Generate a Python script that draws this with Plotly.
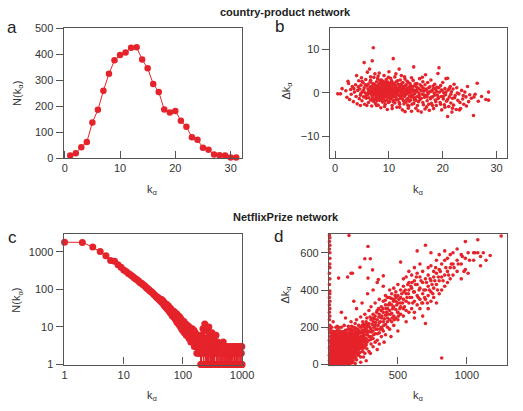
import plotly.graph_objects as go

RED = "#e5232a"
FONT = "Liberation Sans, Arial, sans-serif"

# ---------------- panel a: country-product degree distribution ----------------
a_k = list(range(1, 32))
a_N = [10, 19, 42, 62, 137, 186, 260, 325, 377, 397, 407, 425, 427, 380, 346, 286,
       255, 187, 176, 182, 144, 121, 80, 71, 40, 32, 14, 11, 10, 2, 2]

# ---------------- panel b: country-product k vs delta k ----------------
b_pts = [
    (0.5, -0.2), (1.0, -0.2), (1.3, 1.0), (2.0, 0.5), (2.2, -1.0), (2.4, 2.7), (2.5, 2.2), (2.7, -1.5),
    (2.9, 0.8), (3.0, -0.3), (3.2, 1.5), (3.4, -2.0), (3.6, 0.2), (3.8, 1.9), (3.9, -0.8), (4.0, 4.0),
    (4.1, -2.5), (4.2, 0.6), (4.4, 2.8), (4.5, -1.3),
    (4.6, 0.9), (4.7, -0.5), (4.8, 1.8), (4.9, 3.5), (5.0, -1.8), (5.1, 0.3), (5.2, 2.4), (5.3, -0.9),
    (5.4, 7.0), (5.4, 1.2), (5.5, -2.6), (5.6, 0.0), (5.7, 3.1), (5.8, -1.2), (5.9, 1.6), (6.0, -0.4),
    (6.0, 4.8), (6.1, 2.0), (6.2, -2.2), (6.3, 0.7), (6.4, 5.5), (6.4, -0.1), (6.5, 1.4), (6.6, -1.6),
    (6.6, 2.9), (6.7, 0.4), (6.8, -3.0), (6.8, 1.0), (6.9, 7.4), (6.9, -0.7), (7.0, 2.2), (7.0, 0.1),
    (7.1, 10.4), (7.1, -1.9), (7.2, 3.6), (7.2, 1.1), (7.3, -0.3), (7.4, 4.4), (7.4, 0.6), (7.5, -2.4),
    (7.5, 1.7), (7.6, -0.9), (7.6, 0.3), (7.7, 2.6), (7.7, -1.4), (7.8, 0.9), (7.8, -0.2), (7.9, 3.3),
    (7.9, 1.4), (8.0, -2.8), (8.0, 0.0), (8.1, 2.0), (8.1, -0.6), (8.2, 1.0), (8.2, 4.6), (8.3, -1.7),
    (8.3, 0.5), (8.4, 2.4), (8.4, -0.3), (8.5, 1.3), (8.5, -3.4), (8.6, 0.2), (8.6, 3.0), (8.7, -1.0),
    (8.7, 1.8), (8.8, 0.7), (8.8, -2.1), (8.9, -0.5), (8.9, 2.7), (9.0, 1.1), (9.0, -1.3), (9.1, 0.4),
    (9.1, 4.0), (9.2, -0.8), (9.2, 2.1), (9.3, 0.9), (9.3, -2.6), (9.4, 1.5), (9.4, -0.1), (9.5, 3.1),
    (9.5, 0.3), (9.6, -1.6), (9.6, 1.9), (9.7, -3.8), (9.7, 0.6), (9.8, 2.5), (9.8, -0.4), (9.9, 1.2),
    (9.9, -1.1), (10.0, 4.9), (10.0, 0.1), (10.0, 2.2), (10.1, -2.0), (10.1, 0.8), (10.2, 1.6), (10.2, -0.7),
    (10.3, 3.4), (10.3, 0.0), (10.4, -1.4), (10.4, 1.0),
    (10.5, 2.8), (10.5, -0.2), (10.6, 0.7), (10.6, -2.9), (10.7, 1.9), (10.7, -0.9), (10.8, 7.9), (10.8, 0.4),
    (10.9, -1.7), (10.9, 2.3), (11.0, 1.2), (11.0, -0.4), (11.1, 3.7), (11.1, -2.3), (11.2, 0.1), (11.2, 1.6),
    (11.3, -1.0), (11.4, 2.6), (11.4, 0.5), (11.5, -3.3), (11.5, 1.0), (11.6, -0.1), (11.7, 2.0), (11.7, -1.5),
    (11.8, 0.8), (11.9, 5.5), (11.9, -0.6), (12.0, 1.4), (12.0, -2.6), (12.1, 3.0), (12.2, 0.2), (12.2, -1.2),
    (12.3, 4.0), (12.3, 1.8), (12.4, -0.3), (12.5, -3.9), (12.5, 0.9), (12.6, 2.4), (12.7, -1.8), (12.7, 0.0),
    (12.8, 1.5), (12.9, -0.8), (13.0, 3.2), (13.0, -4.3), (13.1, 0.6), (13.2, -2.1), (13.2, 1.9), (13.3, -0.2),
    (13.4, 2.7), (13.5, -1.3), (13.5, 0.4), (13.6, 1.2), (13.7, -3.0), (13.8, 0.8), (13.8, -0.7), (13.9, 2.2),
    (14.0, -1.6), (14.0, 0.2), (14.1, 1.4), (14.2, -4.2),
    (14.3, 0.9), (14.4, -0.5), (14.5, 2.9), (14.6, 6.0), (14.6, -2.4), (14.7, 0.3), (14.8, 1.7), (14.9, -1.1),
    (15.0, -3.5), (15.1, 0.6), (15.2, 2.2), (15.3, -0.8), (15.4, 1.1), (15.5, -2.0), (15.6, 0.0), (15.7, 3.3),
    (15.8, -1.5), (15.9, 0.7), (16.0, -4.4), (16.1, 1.5), (16.2, -0.3), (16.3, 2.6), (16.4, -2.7), (16.5, 0.4),
    (16.6, -1.0), (16.7, 1.9), (16.8, 4.2), (16.9, -0.6), (17.0, -3.2), (17.0, 0.9), (17.1, -1.8), (17.2, 2.4),
    (17.3, -0.2), (17.4, 1.2), (17.5, -4.0), (17.6, 0.3), (17.7, -1.3), (17.8, 3.0), (17.9, -2.4), (18.0, 0.6),
    (18.1, -0.9), (18.2, 1.6), (18.3, -3.6), (18.4, 0.0), (18.5, 2.0),
    (18.6, -1.6), (18.7, 0.8), (18.8, -2.9), (18.9, 1.3), (19.0, -0.5), (19.1, 4.5), (19.2, -1.1), (19.3, 5.8),
    (19.4, 0.2), (19.5, -2.2), (19.6, 1.7), (19.7, -0.8), (19.8, -3.9), (19.9, 0.5), (20.0, 2.4), (20.1, -1.4),
    (20.2, 0.0), (20.3, -2.7), (20.4, 1.0), (20.5, -0.4), (20.6, 3.3), (20.7, -1.9), (20.9, -5.4), (20.9, 3.4),
    (21.0, 0.7), (21.1, -3.1), (21.2, -0.9), (21.4, 1.5), (21.5, -2.3), (21.6, 0.3), (21.7, -4.4), (21.8, -1.2),
    (21.9, 0.9), (22.0, -2.8), (22.1, 2.0),
    (22.3, -0.6), (22.5, -3.8), (22.6, 1.2), (22.8, -1.7), (23.0, -0.2), (23.1, -3.9), (23.3, -3.6), (23.5, 0.6),
    (23.7, -1.4), (23.9, -2.6), (24.1, 0.2), (24.3, -0.9), (24.6, 1.5), (24.8, -2.0), (25.0, -0.4), (25.3, -1.2),
    (25.7, -5.2), (25.8, -0.9), (26.0, -0.3), (26.4, 2.25), (26.6, -1.9), (27.2, -0.8), (28.0, -1.5), (28.5, 0.2),
    (28.5, -1.65),
]
b_pts_core = [
    (5.3, 0.6), (5.6, 1.9), (5.8, -0.6), (6.1, 0.9), (6.3, -1.1), (6.5, 2.5), (6.7, -0.3), (6.9, 1.6),
    (7.0, -1.2), (7.2, 0.4), (7.3, 2.0), (7.5, -0.5), (7.6, 1.2), (7.8, -1.8), (7.9, 0.6), (8.0, 1.6),
    (8.1, -1.1), (8.2, 0.2), (8.3, 2.9), (8.4, -0.8), (8.5, 0.8), (8.6, -1.5), (8.7, 2.2), (8.8, 0.0),
    (8.9, 1.3), (9.0, -0.4), (9.1, 1.8), (9.2, -1.9), (9.3, 0.5), (9.4, 2.6), (9.5, -0.9), (9.6, 0.9),
    (9.7, -0.2), (9.8, 1.5), (9.9, -2.2), (10.0, 0.6), (10.1, 1.9), (10.2, -1.2), (10.3, 0.3), (10.4, 2.4),
    (10.5, -0.7), (10.6, 1.2), (10.7, 0.0), (10.8, -2.0), (10.9, 0.9), (11.0, 2.1), (11.1, -0.8), (11.2, 0.7),
    (11.3, 1.5), (11.4, -1.6), (11.5, 0.2), (11.6, 2.8), (11.7, -0.4), (11.8, 1.1), (11.9, -2.2), (12.0, 0.4),
    (12.1, 1.9), (12.2, -0.9), (12.3, 0.6), (12.4, 2.2), (12.5, -1.4), (12.6, 0.1), (12.7, 1.2), (12.8, -2.5),
    (12.9, 0.8), (13.0, -0.5), (13.1, 1.7), (13.2, 0.3), (13.3, -1.5), (13.4, 1.0), (13.5, -2.8), (13.6, 2.4),
    (13.7, 0.0), (13.8, -1.9), (13.9, 0.6), (14.0, 1.7), (14.1, -0.9), (14.2, 0.4), (14.3, -2.6), (14.4, 1.5),
    (14.5, -1.0), (14.6, 0.7), (14.8, -0.2), (14.9, 2.1), (15.0, -1.7), (15.2, 0.3), (15.3, -2.9), (15.5, 1.0),
    (15.6, -0.6), (15.8, 1.9), (16.0, -1.2), (16.1, 0.5), (16.3, -2.2), (16.4, 1.1), (16.6, -0.5), (16.7, -3.7),
    (16.9, 0.8), (17.1, -0.9), (17.2, 0.2), (17.4, -2.6), (17.6, 1.4), (17.8, -1.0), (17.9, 0.4), (18.1, -2.9),
    (18.3, 1.0), (18.5, -0.5), (18.7, -2.0), (18.9, 0.3), (19.1, -1.3), (19.3, 1.2), (19.6, -2.6), (19.8, 0.7),
    (20.1, -0.8), (20.4, -3.3), (20.6, 0.2), (20.9, -1.5), (21.2, 1.0), (21.5, -0.3), (21.8, -3.5), (22.2, -1.1),
    (22.7, 0.0), (23.2, -2.2), (23.8, -0.6), (24.4, -3.0), (5.9, -2.9), (6.6, 3.7), (7.7, -2.9), (8.0, 3.9),
    (9.2, -3.1), (9.9, 3.6), (10.6, -3.6), (11.3, 4.4), (12.0, -3.3), (12.9, 3.7), (13.6, -3.5), (14.2, 3.5),
    (15.4, -4.1), (16.2, 3.6), (4.3, 1.4), (4.8, -0.1), (5.0, 2.7), (3.5, 1.0), (4.7, -2.9),
    (6.2, 0.2), (7.1, 0.9), (7.4, -1.5), (8.15, 0.7), (8.6, 1.0), (9.05, -0.1), (9.45, 0.6), (9.85, 0.2),
    (10.25, 1.2), (10.65, -0.4), (11.05, 0.4), (11.45, -0.3), (11.85, 0.3), (12.25, 1.0), (12.65, -0.6),
    (13.05, 0.9), (13.45, 0.2), (13.85, 1.4), (14.25, -0.4), (14.7, -1.6), (15.1, 1.4), (15.7, -1.1),
]

# ---------------- panel c: NetflixPrize degree distribution (log-log) ----------------
c_k_head = list(range(1, 101))
c_N_head = [1800, 1780, 1340, 1020, 790, 590, 560, 450, 390, 330,
            300, 265, 245, 225, 205, 190, 178, 165, 150, 145,
            135, 128, 122, 112, 105, 102, 95, 90, 86, 84,
            80, 74, 72, 69, 66, 62, 60, 61, 55, 54,
            52, 48, 55, 46, 44, 50, 40, 45, 36, 42,
            38, 33, 40, 31, 35, 29, 36, 27, 32, 30,
            24, 31, 26, 22, 28, 20, 25, 23, 19, 26,
            18, 22, 17, 24, 16, 21, 19, 14, 22, 17,
            13, 20, 15, 18, 12, 16, 19, 11, 15, 13,
            17, 10, 14, 12, 9, 15, 11, 13, 8, 12]
c_k_mid = list(range(102, 201, 2))
c_N_mid = [10, 14, 7, 11, 9, 12, 6, 10, 8, 11,
           7, 9, 5, 10, 8, 6, 9, 4, 7, 8,
           5, 9, 6, 4, 7, 5, 8, 3, 6, 5,
           7, 3, 5, 4, 6, 2, 5, 4, 3, 6,
           2, 4, 5, 3, 2, 4, 3, 5, 2, 1]
c_k_tail1 = list(range(202, 401, 4))
c_N_tail1 = [3, 1, 6, 2, 9, 1, 4, 2, 12, 1,
             3, 5, 1, 8, 2, 1, 4, 1, 10, 2,
             3, 1, 6, 1, 2, 4, 1, 7, 2, 1,
             3, 1, 5, 1, 2, 3, 1, 4, 1, 2,
             6, 1, 3, 1, 2, 1, 4, 1, 2, 3]
c_k_tail2 = list(range(410, 1001, 10))
c_N_tail2 = [1, 2, 1, 3, 1, 2, 1, 4, 1, 2,
             1, 3, 1, 1, 2, 1, 3, 1, 2, 1,
             1, 3, 1, 2, 1, 2, 1, 3, 1, 1,
             2, 1, 3, 1, 2, 1, 1, 2, 1, 3,
             1, 2, 1, 1, 3, 1, 2, 1, 1, 2,
             1, 3, 1, 2, 1, 1, 2, 1, 3, 1]

# ---------------- panel d: NetflixPrize k vs delta k ----------------
d_edge_cols = [
    (3, [0, 20, 50, 90, 130, 190, 240, 280, 320, 360, 430, 490, 620, 660, 695]),
    (6, [5, 40, 80, 120, 170, 210, 260, 300, 340, 380, 395, 460, 520, 540, 570, 600, 640, 680]),
]
d_core_cols = [
    (10, [15, 60, 100, 150, 190]), (15, [5, 25, 45, 70, 90, 120, 170]),
    (20, [0, 30, 70, 110, 140, 200]), (25, [15, 40, 55, 85, 100, 130, 160]),
    (30, [10, 45, 85, 125, 165, 230]), (35, [0, 25, 50, 70, 110, 145]),
    (40, [5, 35, 60, 95, 130, 175]), (45, [15, 45, 80, 100, 120, 155]),
    (50, [20, 50, 75, 110, 150, 200]), (55, [5, 40, 60, 95, 130, 180]),
    (60, [0, 30, 65, 90, 120, 160, 205]), (65, [20, 50, 75, 110, 140]),
    (70, [15, 45, 80, 105, 135, 464, 199]), (75, [0, 30, 60, 90, 120, 170]),
    (80, [5, 35, 60, 95, 125, 150, 180]), (85, [15, 45, 80, 105, 135, 160]),
    (90, [20, 50, 75, 110, 140, 200]), (95, [5, 35, 65, 95, 125, 175]),
    (100, [0, 30, 60, 90, 120, 155]), (105, [20, 50, 75, 110, 145]),
    (110, [15, 45, 80, 105, 135, 175, 210]), (115, [0, 30, 55, 90, 115, 160]),
    (120, [10, 35, 65, 95, 125, 150, 184]), (125, [15, 45, 80, 105, 135, 170]),
    (130, [25, 55, 85, 115, 140, 185]), (135, [5, 30, 60, 90, 120, 150, 470]),
    (140, [5, 40, 70, 100, 130, 160, 205]), (145, [20, 55, 85, 115, 145, 190, 693]),
    (150, [20, 50, 80, 110, 140, 170]), (155, [10, 35, 65, 95, 125, 160]),
    (160, [30, 60, 90, 120, 150, 190, 230, 490]), (165, [25, 55, 85, 110, 140, 175]),
    (170, [10, 45, 75, 105, 135, 165, 490]), (175, [20, 60, 90, 120, 150, 185]),
    (180, [40, 70, 100, 130, 160, 200]), (185, [35, 70, 100, 130, 165]),
    (190, [55, 85, 115, 145, 175, 220]), (195, [40, 75, 105, 135, 165, 195]),
    (200, [25, 65, 95, 125, 155, 240]), (210, [60, 95, 125, 160, 190]),
    (215, [50, 80, 110, 140, 180, 210]), (225, [65, 100, 135, 170, 522]),
    (230, [40, 90, 120, 150, 200, 255]), (240, [85, 115, 150, 185, 210]),
    (245, [70, 105, 135, 170, 230]), (255, [90, 125, 160, 200]),
    (260, [60, 100, 140, 185, 215, 270, 568]), (270, [105, 140, 175, 230]),
    (275, [85, 120, 160, 200, 250]),
]
d_mid_cols = [
    (283, [464, 634]), (290, [70, 130, 175, 220, 290]), (300, [568]),
    (305, [110, 150, 190, 240, 310]), (316, [508]), (320, [95, 140, 180, 230, 270]),
    (335, [120, 165, 210, 260, 330]), (350, [130, 190, 240, 290]),
    (358, [456]), (365, [110, 170, 225, 270, 350]), (380, [150, 200, 250, 310]),
    (394, [180, 230, 280, 340, 420, 476]), (410, [160, 215, 265, 320, 370]),
    (425, [200, 250, 300, 360]), (440, [190, 240, 290, 330, 400]),
    (455, [230, 275, 320, 380]), (470, [210, 260, 310, 350, 410]),
    (485, [250, 295, 340, 390]), (500, [240, 280, 330, 370, 430]),
    (520, [270, 310, 360, 400, 550]), (540, [260, 300, 350, 420, 460]),
    (560, [290, 340, 380, 470]), (580, [280, 330, 400, 440, 500]),
    (600, [300, 360, 410, 480]), (620, [280, 340, 390, 450, 520]),
    (640, [320, 370, 430, 490, 610]), (660, [300, 350, 410, 470, 540]),
    (680, [260, 330, 380, 440, 500]), (700, [220, 350, 400, 460, 640]),
]
d_far_cols = [
    (720, [300, 370, 420, 480, 520]), (740, [340, 390, 450, 530, 600]),
    (760, [360, 410, 470, 500]), (780, [330, 430, 490, 560]),
    (800, [380, 450, 510, 590]), (818, [35, 400, 470, 540]),
    (840, [420, 480, 560, 610]), (860, [440, 500, 570]),
    (880, [460, 520, 590]), (900, [480, 540, 600]),
    (930, [500, 560, 620]), (960, [460, 540, 590]),
    (990, [510, 570, 660]), (1010, [490, 600]),
    (1050, [560, 600]), (1080, [600, 670]),
    (1100, [530, 580]), (1170, [585]), (1250, [690]),
]
d_pts_extra = [
    (8, 28), (12, 82), (17, 135), (22, 52), (27, 178), (33, 88), (38, 12), (42, 140), (47, 62), (52, 168),
    (57, 22), (62, 108), (67, 148), (72, 35), (77, 98), (82, 168), (87, 62), (92, 125), (97, 18), (102, 88),
    (107, 170), (112, 65), (117, 132), (122, 25), (127, 95), (132, 158), (137, 42), (142, 118), (147, 72),
    (152, 185), (157, 52), (162, 100), (167, 145), (172, 32), (177, 108), (182, 155), (187, 82), (192, 128),
    (197, 58), (202, 180), (12, 40), (18, 105), (24, 70), (29, 148), (36, 115), (43, 32), (49, 92), (54, 142),
    (59, 72), (64, 185), (69, 58), (74, 148), (79, 78), (84, 28), (89, 160), (94, 88), (99, 140), (104, 36),
    (109, 125), (114, 178), (119, 80), (124, 148), (129, 62), (134, 105), (139, 185), (144, 35), (149, 95),
    (154, 138), (159, 75), (164, 205), (169, 118), (174, 70), (179, 138), (184, 112), (189, 195), (194, 92),
    (199, 142), (206, 118), (212, 168), (218, 88), (224, 145), (232, 108), (238, 178), (244, 128), (250, 215),
    (256, 145), (263, 118), (268, 190), (278, 160), (284, 210), (292, 150), (298, 255), (308, 175), (314, 215),
    (324, 160), (330, 245), (340, 190), (346, 280), (356, 210), (362, 255), (372, 230), (378, 290), (386, 190),
    (392, 300), (402, 245), (408, 345), (418, 280), (424, 230), (432, 320), (446, 270), (452, 355), (462, 300),
    (474, 240), (480, 370), (492, 320), (498, 280), (508, 350), (514, 300), (528, 380), (534, 330), (548, 310),
    (554, 400), (566, 360), (572, 430), (588, 360), (594, 420), (608, 330), (614, 390), (628, 430), (634, 470),
    (648, 360), (654, 400), (668, 450), (674, 330), (688, 400), (694, 360), (708, 440), (714, 330), (728, 400),
    (734, 460), (748, 430), (754, 380), (768, 450), (774, 520), (788, 400), (794, 470), (808, 500), (828, 450),
    (848, 520), (868, 480), (888, 540), (908, 520), (938, 540), (968, 580), (980, 500), (1020, 560),
    (1060, 600), (1120, 600), (1140, 560),
    (20, 2), (45, 3), (80, 1), (110, 4), (150, 2), (190, 5), (230, 12), (270, 20),
    (250, 40), (300, 60), (350, 80), (400, 120), (450, 150), (500, 180), (560, 230), (620, 250),
    (200, 300), (240, 330), (280, 380), (320, 400), (350, 440), (120, 250), (90, 280), (180, 340),
    (33, 62), (47, 118), (58, 48), (68, 128), (76, 12), (86, 118), (93, 45), (103, 152), (113, 22),
    (121, 108), (128, 42), (138, 75), (146, 162), (156, 22), (163, 128), (171, 88), (178, 42), (186, 148),
    (193, 108), (201, 82), (208, 145), (216, 125), (222, 105), (228, 170), (236, 95), (248, 160), (258, 180),
    (266, 135), (274, 215), (282, 180), (296, 200), (304, 135), (318, 250), (326, 200), (338, 225),
    (352, 165), (360, 300), (370, 190), (384, 260), (398, 210), (414, 300), (428, 270), (438, 360),
    (458, 250), (468, 340), (488, 360), (504, 260), (518, 330), (544, 390), (576, 380), (602, 440),
]

# ---------------- build figure ----------------
fig = go.Figure()

fig.add_trace(go.Scatter(x=a_k, y=a_N, mode="lines+markers",
                         line=dict(color=RED, width=1), marker=dict(color=RED, size=6.5),
                         xaxis="x", yaxis="y", cliponaxis=False, showlegend=False))

b_all = b_pts + b_pts_core
fig.add_trace(go.Scatter(x=[p[0] for p in b_all], y=[p[1] for p in b_all], mode="markers",
                         marker=dict(color=RED, size=3.6), xaxis="x2", yaxis="y2", showlegend=False))

c_k = c_k_head + c_k_mid + c_k_tail1 + c_k_tail2
c_N = c_N_head + c_N_mid + c_N_tail1 + c_N_tail2
fig.add_trace(go.Scatter(x=c_k, y=c_N, mode="lines+markers",
                         line=dict(color=RED, width=1), marker=dict(color=RED, size=7),
                         xaxis="x3", yaxis="y3", cliponaxis=False, showlegend=False))

dx, dy = [], []
for cols in (d_edge_cols, d_core_cols, d_mid_cols, d_far_cols):
    for k, vals in cols:
        for v in vals:
            dx.append(k)
            dy.append(v)
dx += [p[0] for p in d_pts_extra]
dy += [p[1] for p in d_pts_extra]
fig.add_trace(go.Scatter(x=dx, y=dy, mode="markers", marker=dict(color=RED, size=3.6),
                         xaxis="x4", yaxis="y4", cliponaxis=False, showlegend=False))

W, H = 523, 411


def px_x(a, b):
    return [a / W, b / W]


def px_y(top, bottom):
    return [1 - bottom / H, 1 - top / H]


common = dict(showline=True, mirror=True, linecolor="#555", linewidth=1.2,
              showgrid=False, zeroline=False, ticklen=7, tickwidth=1, tickcolor="#555",
              tickfont=dict(family=FONT, size=11, color="#333"))
xcommon = dict(common, ticks="inside")
ycommon = dict(common, ticks="outside", ticklen=7)

fig.update_layout(
    width=W, height=H, margin=dict(l=0, r=0, t=0, b=0),
    paper_bgcolor="white", plot_bgcolor="white",
    xaxis=dict(xcommon, domain=px_x(63.3, 246.3), anchor="y", range=[-0.2, 32],
               tickvals=[0, 10, 20, 30]),
    yaxis=dict(ycommon, domain=px_y(22.5, 156.7), anchor="x", range=[0, 502],
               tickvals=[0, 100, 200, 300, 400, 500]),
    xaxis2=dict(xcommon, domain=px_x(336.7, 519.3), anchor="y2", range=[-1, 32],
                tickvals=[0, 10, 20, 30]),
    yaxis2=dict(ycommon, domain=px_y(22.5, 156.7), anchor="x2", range=[-15, 15],
                tickvals=[-10, 0, 10]),
    xaxis3=dict(xcommon, domain=px_x(63.3, 246.7), anchor="y3", type="log", range=[-0.016, 3.0],
                tickvals=[1, 10, 100, 1000], ticktext=["1", "10", "100", "1000"]),
    yaxis3=dict(ycommon, domain=px_y(235, 369.3), anchor="x3", type="log", range=[0, 3.47],
                tickvals=[1, 10, 100, 1000], ticktext=["1", "10", "100", "1000"]),
    xaxis4=dict(xcommon, domain=px_x(336, 519.3), anchor="y4", range=[0, 1295],
                tickvals=[500, 1000]),
    yaxis4=dict(ycommon, domain=px_y(235, 369.3), anchor="x4", range=[0, 700],
                tickvals=[0, 200, 400, 600]),
)


def ann(text, x, y, size=11, angle=0, color="#333"):
    fig.add_annotation(text=text, x=x / W, y=1 - y / H, xref="paper", yref="paper",
                       showarrow=False, xanchor="center", yanchor="middle", textangle=angle,
                       font=dict(family=FONT, size=size, color=color))


ann("<b>country-product network</b>", 291, 6, size=11, color="#222")
ann("<b>NetflixPrize network</b>", 292, 217, size=11, color="#222")
ann("a", 10, 22, size=17, color="#222")
ann("b", 285, 21, size=17, color="#222")
ann("c", 11, 238, size=17, color="#222")
ann("d", 284, 237, size=17, color="#222")
ann("k<sub>α</sub>", 155, 190)
ann("k<sub>α</sub>", 428, 190)
ann("k<sub>α</sub>", 155, 402)
ann("k<sub>α</sub>", 428, 402)
ann("N(k<sub>α</sub>)", 17, 90, angle=-90)
ann("N(k<sub>α</sub>)", 16, 303, angle=-90)
ann("Δk<sub>α</sub>", 293, 87, angle=-90)
ann("Δk<sub>α</sub>", 292, 297, angle=-90)

fig.write_html("out.html")
